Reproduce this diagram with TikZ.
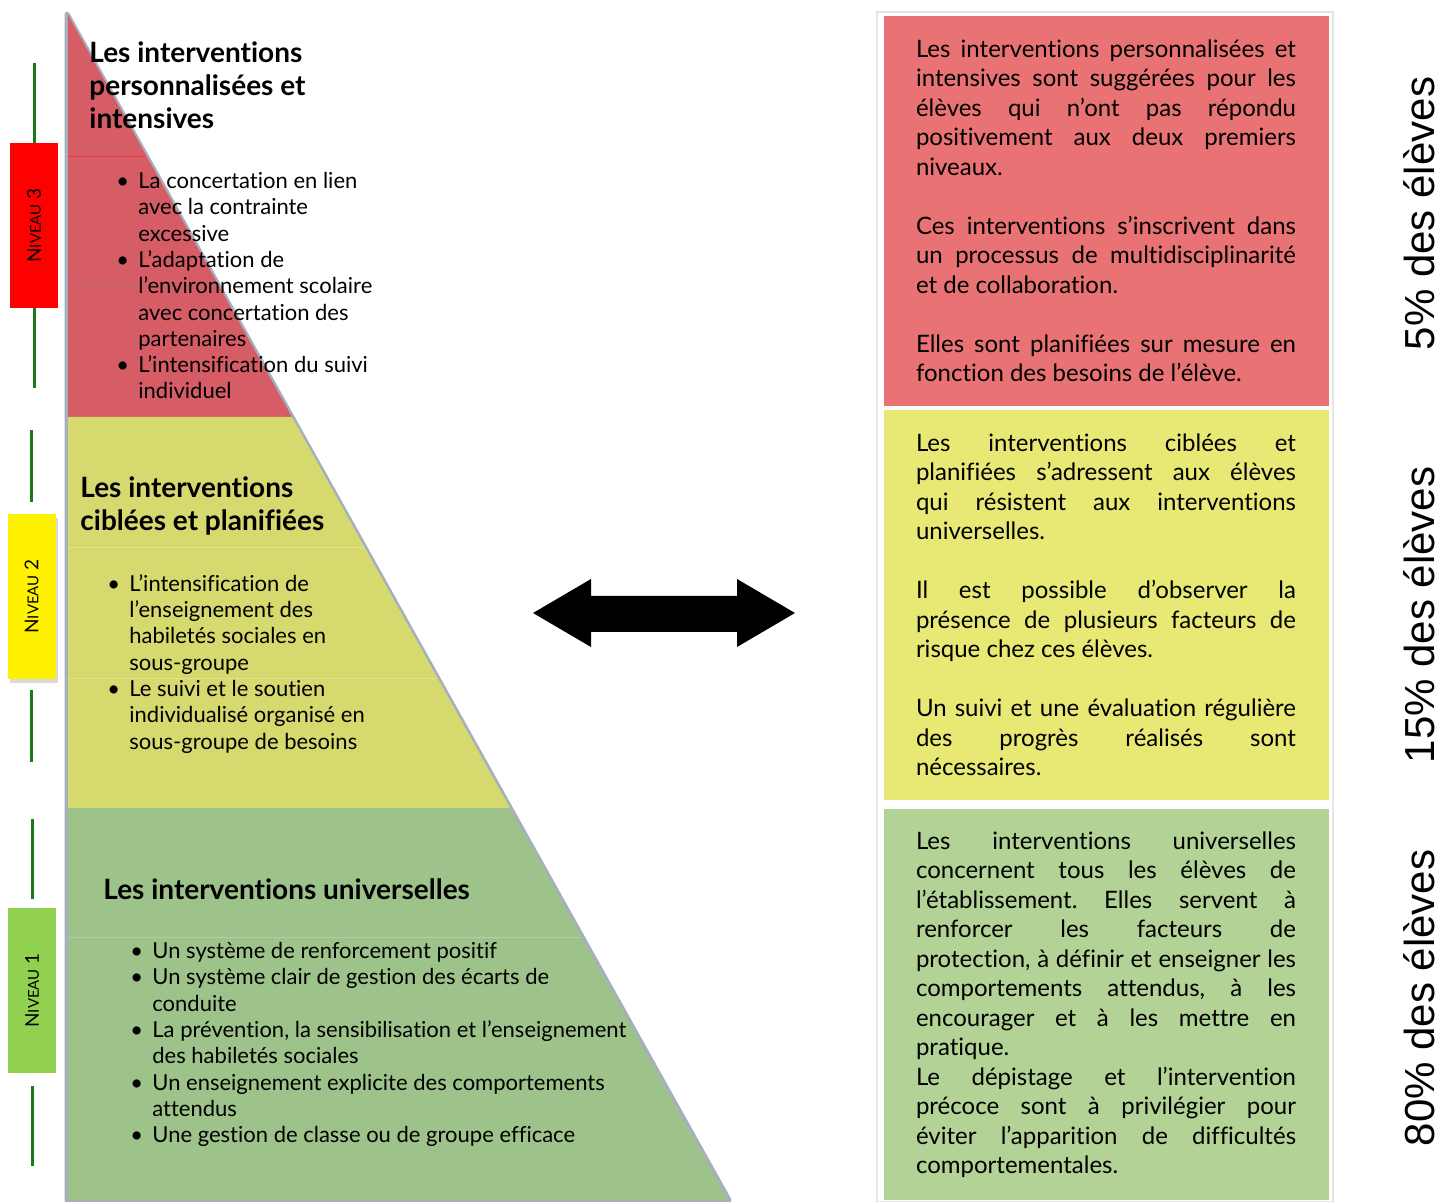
\documentclass[tikz,border=0pt]{standalone}
\usepackage{fontspec}
\setmainfont[Ligatures=NoCommon]{Lato}
\newfontfamily\arialfont{Liberation Sans}
\usetikzlibrary{shadows}
\setlength{\parindent}{0pt}
\frenchspacing

\definecolor{rougepyr}{RGB}{214,92,102}
\definecolor{jaunepyr}{RGB}{213,217,110}
\definecolor{vertpyr}{RGB}{157,195,139}
\definecolor{rougeboite}{RGB}{233,115,116}
\definecolor{jauneboite}{RGB}{232,232,117}
\definecolor{vertboite}{RGB}{179,210,150}
\definecolor{vertniveau}{RGB}{146,208,80}
\definecolor{lignevert}{RGB}{26,122,26}
\definecolor{ombrepyr}{RGB}{165,175,190}

\newcommand{\nomniveau}[1]{N{\fontsize{7.5}{8}\selectfont IVEAU} #1}
\newcommand{\pu}{\makebox[11pt][l]{\textbullet}}
\newcommand{\su}{\hspace*{11pt}}

\begin{document}
\begin{tikzpicture}[x=0.5pt, y=-0.5pt,
        titre/.style={anchor=north west, inner sep=0pt, align=left, font=\fontsize{14}{16.5}\selectfont\bfseries},
        puces/.style={anchor=north west, inner sep=0pt, align=left, font=\fontsize{11}{13.15}\selectfont},
        boite/.style={minimum width=222.5pt, minimum height=195pt, text width=190pt, align=justify, inner sep=0pt, font=\fontsize{12}{14.75}\selectfont},
        niveau/.style={minimum width=24pt, minimum height=82.5pt, inner sep=0pt, font=\fontsize{9.5}{10}\selectfont},
        niveauligne/.style={color=lignevert, line width=1.5pt},
        pourcent/.style={rotate=90, anchor=base, inner sep=0pt, font=\arialfont\fontsize{21}{25}\selectfont}]
        \useasboundingbox (0,0) rectangle (1451,1202);
        \def\sepvide{\par\vspace{14.75pt}}

        \draw[color=ombrepyr, line width=2.5pt, line join=round] (67,14) -- (729,1200) -- (67,1200) -- cycle;
        \fill[color=rougepyr] (68,15) -- (292,417) -- (68,417) -- cycle;
        \fill[color=jaunepyr] (68,417) -- (292,417) -- (510,808) -- (68,808) -- cycle;
        \fill[color=vertpyr] (68,808) -- (510,808) -- (728,1200) -- (68,1200) -- cycle;

        \draw[color=red!70!rougepyr, opacity=0.5] (68,156) -- (146,156);
        \draw[color=gray!60!rougepyr, opacity=0.4] (68,287) -- (219,287);
        \draw[color=white, opacity=0.25] (68,547) -- (364,547);
        \draw[color=white, opacity=0.25] (68,678) -- (437,678);
        \draw[color=white, opacity=0.2] (68,937) -- (581,937);

        \node[titre] (t3) at (89,41) {Les interventions\\personnalisées et\\intensives};
        \node[puces] (l3) at (116,172) {\pu La concertation en lien\\ \su avec la contrainte\\ \su excessive\\
            \pu L’adaptation de\\ \su l’environnement scolaire\\ \su avec concertation des\\ \su partenaires\\
            \pu L’intensification du suivi\\ \su individuel};

        \node[titre] (t2) at (80,476) {Les interventions\\ciblées et planifiées};
        \node[puces] (l2) at (107,574) {\pu L’intensification de\\ \su l’enseignement des\\ \su habiletés sociales en\\ \su sous-groupe\\
            \pu Le suivi et le soutien\\ \su individualisé organisé en\\ \su sous-groupe de besoins};

        \node[titre] (t1) at (103,878) {Les interventions universelles};
        \node[puces] (l1) at (130,942) {\pu Un système de renforcement positif\\
            \pu Un système clair de gestion des écarts de\\ \su conduite\\
            \pu La prévention, la sensibilisation et l’enseignement\\ \su des habiletés sociales\\
            \pu Un enseignement explicite des comportements\\ \su attendus\\
            \pu Une gestion de classe ou de groupe efficace};

        \node[niveau, fill=red] (n3) at (34,225.5) {\rotatebox{90}{\nomniveau{3}}};
        \node[niveau, fill=yellow, drop shadow={opacity=0.3, shadow xshift=1pt, shadow yshift=-2pt}] (n2) at (31.5,596.5) {\rotatebox{90}{\nomniveau{2}}};
        \node[niveau, fill=vertniveau] (n1) at (32,990.5) {\rotatebox{90}{\nomniveau{1}}};
        \draw[niveauligne] (n3.north) -- ++(0,-80);
        \draw[niveauligne] (n3.south) -- ++(0,80);
        \draw[niveauligne] ([yshift=6pt]n2.north) -- ++(0,-72);
        \draw[niveauligne] ([yshift=-5.5pt]n2.south) -- ++(0,72);
        \draw[niveauligne] ([yshift=4.5pt]n1.north) -- ++(0,-80);
        \draw[niveauligne] ([yshift=-6.5pt]n1.south) -- ++(0,80);

        \fill[color=black] (533,613) -- (591,579) -- (591,596) -- (737,596) -- (737,579) -- (795,613)
            -- (737,647) -- (737,632) -- (591,632) -- (591,647) -- cycle;

        \draw[color=gray!20, line width=1pt] (877,12) rectangle (1333,1202);
        \node[boite, fill=rougeboite] (b3) at (1106,211) {Les interventions personnalisées et\linebreak
            intensives sont suggérées pour les\linebreak élèves qui n’ont pas répondu\linebreak
            positivement aux deux premiers\linebreak niveaux.\sepvide
            Ces interventions s’inscrivent dans\linebreak un processus de multidisciplinarité\linebreak
            et de collaboration.\sepvide
            Elles sont planifiées sur mesure en\linebreak fonction des besoins de l’élève.};
        \node[boite, fill=jauneboite] (b2) at (1106,605) {Les interventions ciblées et\linebreak
            planifiées s’adressent aux élèves\linebreak qui résistent aux interventions\linebreak
            universelles.\sepvide
            Il est possible d’observer la\linebreak présence de plusieurs facteurs de\linebreak
            risque chez ces élèves.\sepvide
            Un suivi et une évaluation régulière\linebreak des progrès réalisés sont\linebreak nécessaires.};
        \node[boite, fill=vertboite, minimum height=195.5pt] (b1) at (1106,1004.5) {Les interventions universelles\linebreak
            concernent tous les élèves de\linebreak l’établissement. Elles servent à\linebreak
            renforcer les facteurs de\linebreak protection, à définir et enseigner les\linebreak
            comportements attendus, à les\linebreak encourager et à les mettre en\linebreak pratique.\par
            Le dépistage et l’intervention\linebreak précoce sont à privilégier pour\linebreak
            éviter l’apparition de difficultés\linebreak comportementales.};

        \node[pourcent] (p3) at (1434,213.5) {5\% des élèves};
        \node[pourcent] (p2) at (1434,615) {15\% des élèves};
        \node[pourcent] (p1) at (1434,998) {80\% des élèves};

    \end{tikzpicture}
\end{document}
